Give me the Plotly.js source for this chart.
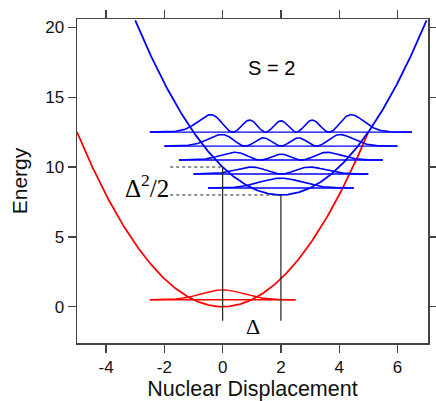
<!DOCTYPE html>
<html><head><meta charset="utf-8">
<script src="https://cdn.plot.ly/plotly-3.0.1.min.js"></script>
<style>html,body{margin:0;padding:0;background:#fff}#chart{width:436px;height:401px}</style>
</head><body><div id="chart"></div>
<script>
// Potential surfaces (harmonic, unit frequency)
const groundCenter = 0;      // ground-state minimum position
const groundMin = 0;         // ground-state minimum energy
const excitedCenter = 2;     // Δ
const excitedMin = 8;        // excited-state minimum energy
const groundXRange = [-5, 5];
const excitedXRange = [-3, 7];
// Vibrational levels of the excited state
const vibQuanta = [0, 1, 2, 3, 4];
const levelEnergies = [8.5, 9.5, 10.5, 11.5, 12.5];
const levelHalfSpan = [2.5, 3.0, 3.5, 4.0, 4.5];
const waveScale = [1.25, 1.2, 1.5, 2.4, 3.8];
// Ground vibrational level
const groundLevel = [0.5];
const groundHalfSpan = [2.5];
const groundWaveScale = [1.25];
// Vertical transitions and guide lines
const vertX = [0, 2];
const vertTop = [10, 8];
const vertBottom = -1;
const dottedY = [10, 8];
const dottedStart = -1.8;
const xTickVals = [-4, -2, 0, 2, 4, 6];
const xTickText = ['-4', '-2', '0', '2', '4', '6'];
const yTickVals = [0, 5, 10, 15, 20];
const yTickText = ['0', '5', '10', '15', '20'];

function hermiteFn(n, x) {
  // normalized harmonic oscillator eigenfunction
  let h0 = 1, h1 = 2 * x;
  let h = n === 0 ? h0 : h1;
  for (let k = 2; k <= n; k++) { h = 2 * x * h1 - 2 * (k - 1) * h0; h0 = h1; h1 = h; }
  let fact = 1; for (let k = 2; k <= n; k++) fact *= k;
  const norm = 1 / Math.sqrt(Math.pow(2, n) * fact * Math.sqrt(Math.PI));
  return norm * h * Math.exp(-x * x / 2);
}
function sampleX(a, b, steps) { const xs = []; for (let i = 0; i <= steps; i++) xs.push(a + (b - a) * i / steps); return xs; }

const traces = [];
const RED = '#ff0000', BLUE = '#0000ff';
let xs = sampleX(groundXRange[0], groundXRange[1], 300);
traces.push({x: xs, y: xs.map(x => groundMin + (x - groundCenter) ** 2 / 2), mode: 'lines', line: {color: RED, width: 1.8}, hoverinfo: 'skip'});
groundLevel.forEach((E, i) => {
  const a = groundCenter - groundHalfSpan[i], b = groundCenter + groundHalfSpan[i];
  traces.push({x: [a, b], y: [E, E], mode: 'lines', line: {color: RED, width: 1.4}, hoverinfo: 'skip'});
  const wx = sampleX(a, b, 200);
  traces.push({x: wx, y: wx.map(x => E + groundWaveScale[i] * hermiteFn(0, x - groundCenter) ** 2), mode: 'lines', line: {color: RED, width: 1.4}, hoverinfo: 'skip'});
});
xs = sampleX(excitedXRange[0], excitedXRange[1], 300);
traces.push({x: xs, y: xs.map(x => excitedMin + (x - excitedCenter) ** 2 / 2), mode: 'lines', line: {color: BLUE, width: 1.8}, hoverinfo: 'skip'});
vibQuanta.forEach((n, i) => {
  const E = levelEnergies[i];
  const a = excitedCenter - levelHalfSpan[i], b = excitedCenter + levelHalfSpan[i];
  traces.push({x: [a, b], y: [E, E], mode: 'lines', line: {color: BLUE, width: 1.4}, hoverinfo: 'skip'});
  const wx = sampleX(a, b, 400);
  traces.push({x: wx, y: wx.map(x => E + waveScale[i] * hermiteFn(n, x - excitedCenter) ** 2), mode: 'lines', line: {color: BLUE, width: 1.6}, hoverinfo: 'skip'});
});
vertX.forEach((vx, i) => {
  traces.push({x: [vx, vx], y: [vertBottom, vertTop[i]], mode: 'lines', line: {color: '#222', width: 1.2}, hoverinfo: 'skip'});
});
dottedY.forEach((dy, i) => {
  traces.push({x: [dottedStart, vertX[i]], y: [dy, dy], mode: 'lines', line: {color: '#222', width: 1, dash: 'dot'}, hoverinfo: 'skip'});
});

const SANS = 'Liberation Sans, Arial, sans-serif';
const SERIF = 'Liberation Serif, Times New Roman, serif';
const axisCommon = {showgrid: false, zeroline: false, showline: true, mirror: 'allticks', ticks: 'outside', ticklen: 8, tickwidth: 1.3, tickcolor: '#444', linecolor: '#444', linewidth: 1.5, tickfont: {family: SANS, size: 17, color: '#111'}};
const layout = {
  width: 436, height: 401,
  margin: {l: 77, r: 8, t: 19, b: 58},
  paper_bgcolor: '#fff', plot_bgcolor: '#fff',
  showlegend: false,
  xaxis: Object.assign({}, axisCommon, {range: [-5, 7.05], tickvals: xTickVals, ticktext: xTickText,
    title: {text: 'Nuclear Displacement', font: {family: SANS, size: 21.5, color: '#111'}, standoff: 5}}),
  yaxis: Object.assign({}, axisCommon, {range: [-2.6, 20.6], tickvals: yTickVals, ticktext: yTickText,
    title: {text: 'Energy', font: {family: SANS, size: 21, color: '#111'}, standoff: 12}}),
  annotations: [
    {x: 1.68, y: 17.1, xref: 'x', yref: 'y', text: 'S = 2', showarrow: false, font: {family: SANS, size: 20, color: '#000'}},
    {x: 1.05, y: -1.45, xref: 'x', yref: 'y', text: 'Δ', showarrow: false, font: {family: SERIF, size: 22, color: '#000'}},
    {x: -1.78, y: 8.65, xref: 'x', yref: 'y', xanchor: 'right', text: 'Δ<sup>2</sup>/2', showarrow: false, font: {family: SERIF, size: 25, color: '#000'}}
  ]
};
Plotly.newPlot('chart', traces, layout, {displayModeBar: false, staticPlot: true});
</script></body></html>
